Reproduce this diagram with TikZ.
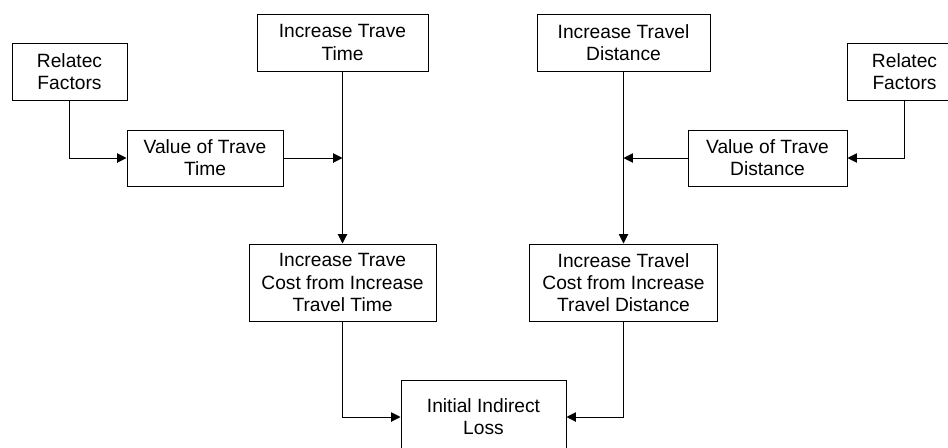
\documentclass[tikz,border=0pt]{standalone}
\usepackage{fontspec}
\setmainfont{Liberation Sans}
\usepackage{tikz}
\usetikzlibrary{arrows.meta}

\begin{document}
\begin{tikzpicture}[x=0.75pt, y=-0.75pt, line width=0.75pt,
		every node/.style={font=\fontsize{14.4}{16.6}\selectfont, align=center, inner sep=0pt},
		factorbox/.style={draw, minimum height=42.75pt},
		costbox/.style={draw, minimum height=57.75pt},
		link/.style={-{Triangle[length=7pt,width=7pt]}}]
	\path[use as bounding box, clip] (0,0) rectangle (948,447);

	% Left branch: travel time
	\node[factorbox, minimum width=86.25pt] (relT) at (69.5,71.5) {Relatec\\Factors};
	\node[factorbox, minimum width=117pt, minimum height=42pt] (valT) at (205,158) {Value of Trave\\Time};
	\node[factorbox, minimum width=128.25pt] (incT) at (342.5,42.5) {Increase Trave\\Time};
	\node[costbox, minimum width=140.25pt] (costT) at (342.5,282.5) {Increase Trave\\Cost from Increase\\Travel Time};

	% Right branch: travel distance
	\node[factorbox, minimum width=86.25pt] (relD) at (904.5,71.5) {Relatec\\Factors};
	\node[factorbox, minimum width=119.25pt, minimum height=42pt] (valD) at (767.5,158) {Value of Trave\\Distance};
	\node[factorbox, minimum width=129.75pt] (incD) at (623.5,42.5) {Increase Travel\\Distance};
	\node[costbox, minimum width=141pt] (costD) at (623.5,282.5) {Increase Travel\\Cost from Increase\\Travel Distance};

	% Result
	\node[draw, minimum width=123.75pt, minimum height=55.5pt] (loss) at (483.5,417) {Initial Indirect\\Loss};

	% Connectors
	\draw[link] (relT.south) |- (valT.west);
	\draw[link] (valT.east) -- (valT.east -| incT.south);
	\draw[link] (incT.south) -- (costT.north);
	\draw[link] (relD.south) |- (valD.east);
	\draw[link] (valD.west) -- (valD.west -| incD.south);
	\draw[link] (incD.south) -- (costD.north);
	\draw[link] (costT.south) |- (loss.west);
	\draw[link] (costD.south) |- (loss.east);
\end{tikzpicture}
\end{document}
